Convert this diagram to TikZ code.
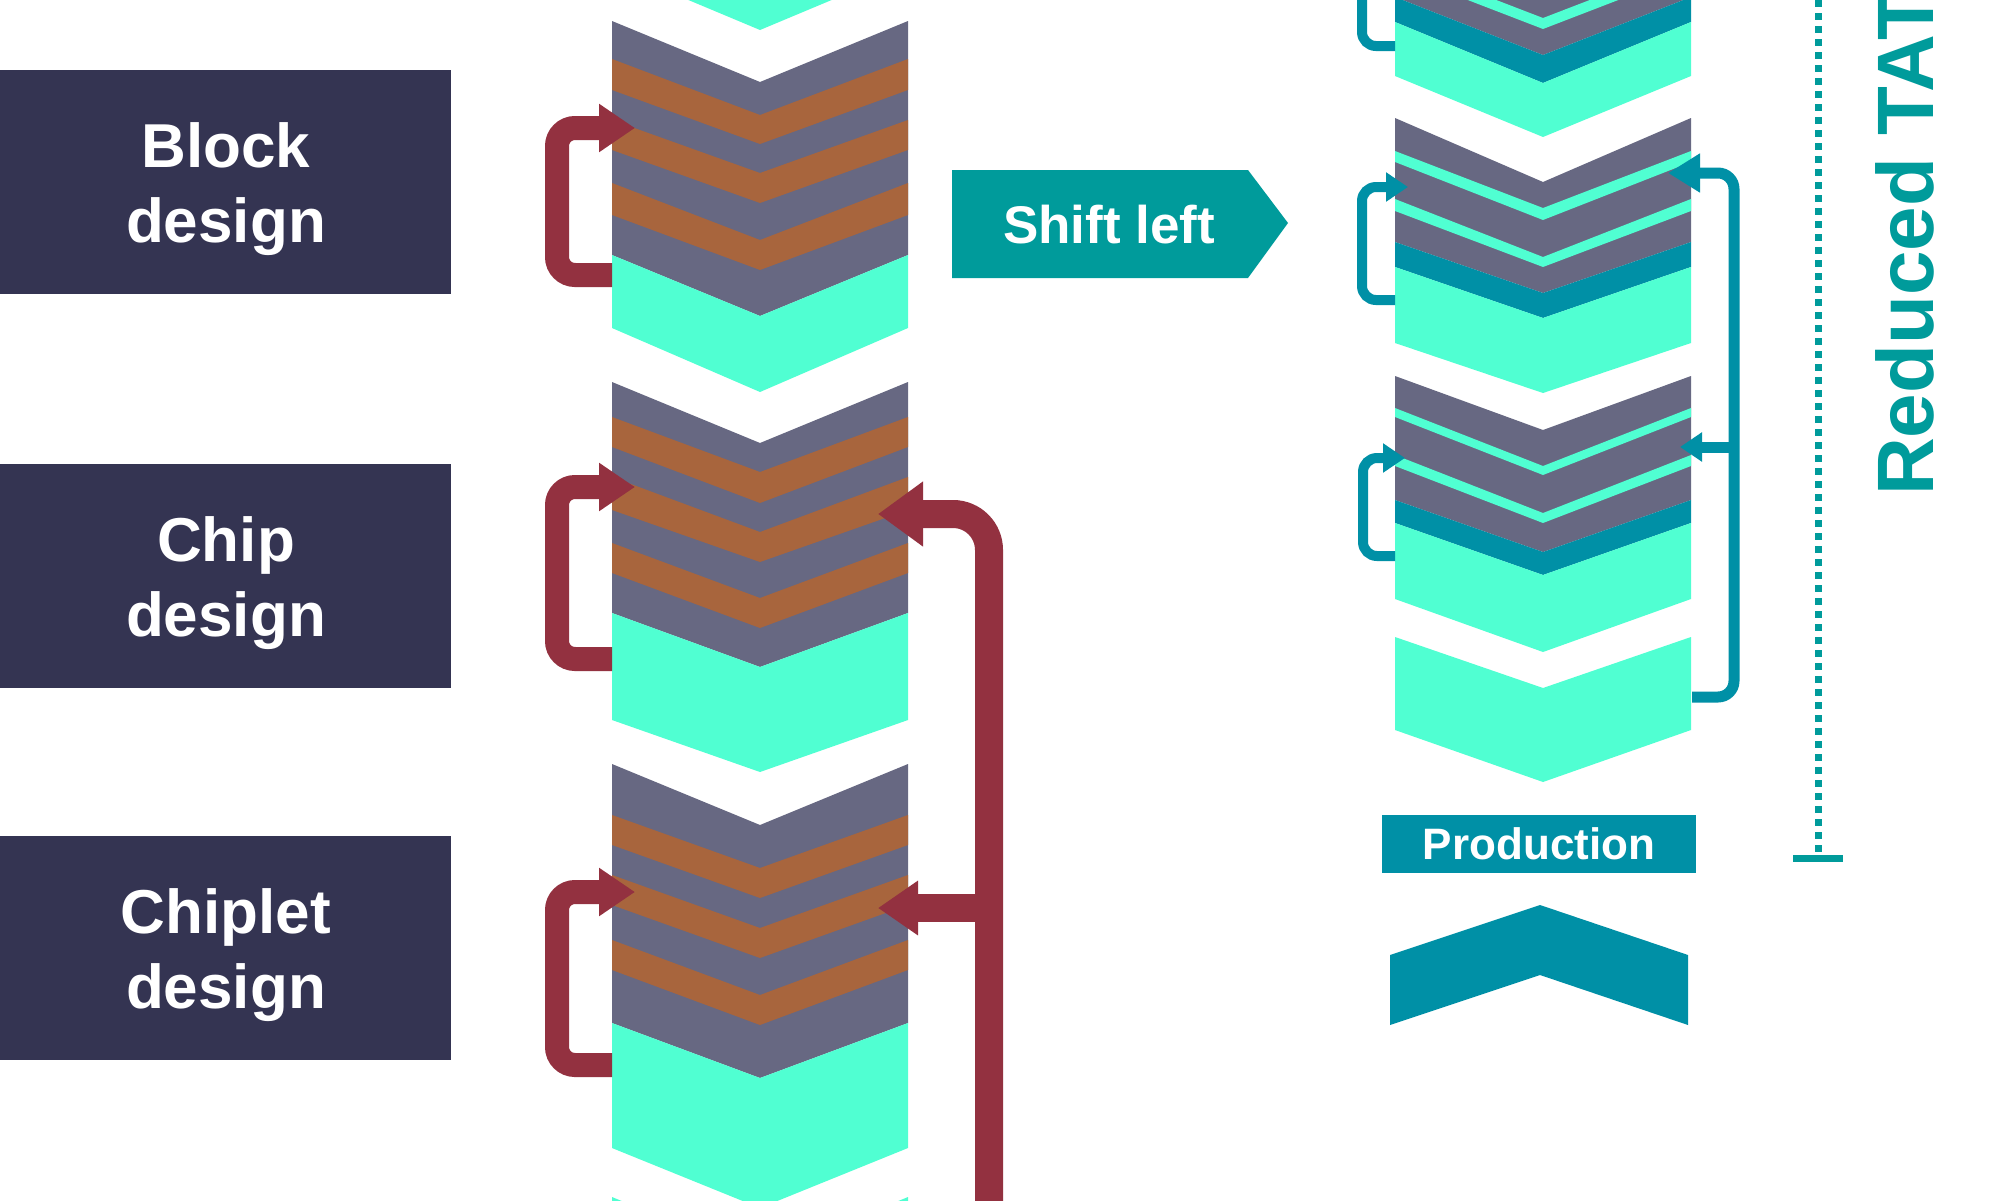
\documentclass[tikz,border=0pt]{standalone}
\usepackage{fontspec}
\setmainfont{Liberation Sans}
\usetikzlibrary{arrows.meta}
\definecolor{navy}{RGB}{52,52,82}
\definecolor{slate}{RGB}{103,104,130}
\definecolor{rust}{RGB}{168,101,61}
\definecolor{mint}{RGB}{80,255,210}
\definecolor{wine}{RGB}{147,49,64}
\definecolor{tealA}{RGB}{0,155,155}
\definecolor{tealB}{RGB}{0,144,166}
% band of a chevron: colour, x centre, top (side), top (centre), bottom (side), bottom (centre)
\newcommand\chevband[6]{\fill[#1] ({#2-148},#3) -- (#2,#4) -- ({#2+148},#3) -- ({#2+148},#5) -- (#2,#6) -- ({#2-148},#5) -- cycle;}
\tikzset{
  labelbox/.style={fill=navy, text=white, font=\bfseries\fontsize{62}{75}\selectfont,
    align=center, minimum width=451pt, minimum height=224pt, inner sep=0pt},
  labeltext/.style={text=white, font=\bfseries\fontsize{62}{75}\selectfont,
    align=center, inner sep=0pt},
  redloop/.style={draw=wine, line width=24pt, rounded corners=18pt,
    -{Triangle[length=36pt,width=46pt]}},
  redbig/.style={draw=wine, line width=28pt, rounded corners=36pt,
    -{Triangle[length=45pt,width=62pt]}},
  redbranch/.style={draw=wine, line width=28pt, -{Triangle[length=40pt,width=52pt]}},
  tealloop/.style={draw=tealB, line width=10pt, rounded corners=14pt,
    -{Triangle[length=22pt,width=28pt]}},
  tealbig/.style={draw=tealB, line width=11pt, rounded corners=16pt,
    -{Triangle[length=32pt,width=37pt]}},
  tealbranch/.style={draw=tealB, line width=11pt, -{Triangle[length=22pt,width=28pt]}},
}
\begin{document}
\begin{tikzpicture}[x=1pt,y=-1pt]
\useasboundingbox (0,0) rectangle (2000,1200);
\clip (0,0) rectangle (2000,1200);
\fill[white] (0,0) rectangle (2000,1200);

% ---------- left column ----------
\chevband{mint}{760}{-120}{-60}{-32}{30}
% block 1
\chevband{slate}{760}{21}{82}{255}{316}
\chevband{rust}{760}{59}{115}{90}{144}
\chevband{rust}{760}{120}{173}{150}{203}
\chevband{rust}{760}{183}{240}{215}{270}
\chevband{mint}{760}{255}{316}{328}{392}
% block 2
\chevband{slate}{760}{382}{443}{613}{667}
\chevband{rust}{760}{417}{472}{447}{503}
\chevband{rust}{760}{477}{532}{510}{562}
\chevband{rust}{760}{543}{598}{573}{628}
\chevband{mint}{760}{613}{667}{720}{772}
% block 3
\chevband{slate}{760}{764}{825}{1023}{1078}
\chevband{rust}{760}{815}{868}{845}{898}
\chevband{rust}{760}{875}{928}{905}{958}
\chevband{rust}{760}{940}{995}{970}{1025}
\chevband{mint}{760}{1023}{1078}{1148}{1208}
\chevband{mint}{760}{1197}{1258}{1300}{1360}

% ---------- right column ----------
\chevband{slate}{1543}{-200}{-140}{-3}{55}
\chevband{mint}{1543}{-39}{18}{-28}{29}
\chevband{tealB}{1543}{-3}{55}{22}{83}
\chevband{mint}{1543}{22}{83}{76}{137}
% block R2
\chevband{slate}{1543}{118}{182}{242}{293}
\chevband{mint}{1543}{151}{208}{162}{220}
\chevband{mint}{1543}{199}{257}{211}{267}
\chevband{tealB}{1543}{242}{293}{267}{318}
\chevband{mint}{1543}{267}{318}{343}{393}
% block R3
\chevband{slate}{1543}{376}{430}{500}{552}
\chevband{mint}{1543}{408}{466}{417}{475}
\chevband{mint}{1543}{455}{513}{466}{523}
\chevband{tealB}{1543}{500}{552}{523}{575}
\chevband{mint}{1543}{523}{575}{599}{652}
% block R4
\chevband{mint}{1543}{637}{688}{730}{782}

% ---------- left feedback loops ----------
\coordinate (a1s) at (612,275); \coordinate (a1e) at (635,128);
\coordinate (a2s) at (612,659); \coordinate (a2e) at (635,487);
\coordinate (a3s) at (612,1065); \coordinate (a3e) at (635,892);
\draw[redloop] (a1s) -- (557,275) -- (557,128) -- (a1e);
\draw[redloop] (a2s) -- (557,659) -- (557,487) -- (a2e);
\draw[redloop] (a3s) -- (557,1065) -- (557,892) -- (a3e);

\coordinate (bigs) at (989,1215); \coordinate (bige) at (878,514);
\coordinate (brs) at (989,908); \coordinate (bre) at (878,908);
\draw[redbig] (bigs) -- (989,514) -- (bige);
\draw[redbranch] (brs) -- (bre);

% ---------- right feedback loops ----------
\coordinate (t0s) at (1395,46); \coordinate (t0e) at (1362,-40);
\draw[draw=tealB, line width=10pt, rounded corners=14pt] (t0s) -- (1362,46) -- (t0e);
\coordinate (t1s) at (1395,300); \coordinate (t1e) at (1408,187);
\draw[tealloop] (t1s) -- (1362,300) -- (1362,187) -- (t1e);
\coordinate (t2s) at (1395,556); \coordinate (t2e) at (1405,458);
\draw[tealloop] (t2s) -- (1363,556) -- (1363,458) -- (t2e);
\coordinate (tbs) at (1692,697); \coordinate (tbe) at (1668,173);
\draw[tealbig] (tbs) -- (1734,697) -- (1734,173) -- (tbe);
\coordinate (tbrs) at (1734,447); \coordinate (tbre) at (1680,447);
\draw[tealbranch] (tbrs) -- (tbre);

% ---------- labels ----------
\node[fill=navy, minimum width=451pt, minimum height=224pt, inner sep=0pt] (block) at (225.5,181.5) {};
\node[labeltext] (blockt) at (226,189) {Block\\design};
\node[fill=navy, minimum width=451pt, minimum height=224pt, inner sep=0pt] (chip) at (225.5,575.5) {};
\node[labeltext] (chipt) at (226,583) {Chip\\design};
\node[fill=navy, minimum width=451pt, minimum height=224pt, inner sep=0pt] (chiplet) at (225.5,947.5) {};
\node[labeltext] (chiplett) at (226,955) {Chiplet\\design};

% shift left arrow
\fill[tealA] (952,170) -- (1248,170) -- (1288,223) -- (1248,278) -- (952,278) -- cycle;
\node[text=white, font=\bfseries\fontsize{53}{60}\selectfont, anchor=base, inner sep=0pt]
  (shift) at (1109,243) {Shift left};

% production
\node[fill=tealB, text=white, font=\bfseries\fontsize{44}{50}\selectfont,
  minimum width=314pt, minimum height=58pt, inner sep=0pt] (prod) at (1539,844) {Production};
\fill[tealB] (1390,1025) -- (1390,955) -- (1540,905) -- (1688,955) -- (1688,1025) -- (1540,975) -- cycle;

% reduced TAT
\coordinate (tattop) at (1818.5,0); \coordinate (tatbot) at (1818.5,855);
\draw[tealA, line width=7pt, dash pattern=on 7pt off 6pt] (tattop) -- (tatbot);
\coordinate (barl) at (1793,858); \coordinate (barr) at (1843,858);
\draw[tealA, line width=7pt] (barl) -- (barr);
\node[rotate=90, anchor=base west, inner sep=0pt, text=tealA,
  font=\bfseries\fontsize{80}{90}\selectfont] (tat) at (1933,496) {Reduced TAT};
\end{tikzpicture}
\end{document}
